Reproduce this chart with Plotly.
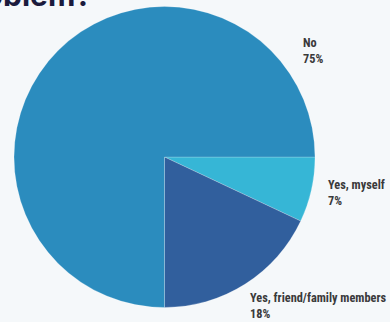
import plotly.graph_objects as go

labels = ["Yes, myself", "Yes, friend/family members", "No"]
values = [7, 18, 75]
colors = ["#36b6d6", "#315f9d", "#2b8cbe"]
title_text = "a gambling problem?"

W, H = 390, 322
cx, cy, r = 164.5, 157, 150.5

fig = go.Figure(go.Pie(
    labels=labels, values=values, sort=False, direction="clockwise", rotation=90,
    marker=dict(colors=colors, line=dict(color="rgba(255,255,255,0.35)", width=0.6)),
    textinfo="none", hoverinfo="label+percent", showlegend=False,
    domain=dict(x=[(cx - r) / W, (cx + r) / W], y=[(H - cy - r) / H, (H - cy + r) / H]),
))

# label positions (px, left/top)
label_pos = {"No": (301, 34), "Yes, myself": (326, 176), "Yes, friend/family members": (248, 289)}
total = sum(values)
for lab, val in zip(labels, values):
    px, py = label_pos[lab]
    fig.add_annotation(
        x=px / W, y=1 - py / H, xref="paper", yref="paper", xanchor="left", yanchor="top",
        text=f"<b>{lab}</b><br><b>{round(val / total * 100)}%</b>", showarrow=False, align="left",
        font=dict(family="Liberation Sans Narrow, Roboto Condensed, Roboto, sans-serif", size=12.3, color="#3a3a3a"),
    )

fig.add_annotation(
    x=94 / W, y=1 - 15 / H, xref="paper", yref="paper", xanchor="right", yanchor="bottom",
    text="<b>" + title_text + "</b>", showarrow=False,
    font=dict(family="Inter, Lato, sans-serif", size=30, color="#1b1b3d"),
)

fig.update_layout(
    width=W, height=H, margin=dict(l=0, r=0, t=0, b=0),
    paper_bgcolor="#f5f8fa", plot_bgcolor="#f5f8fa",
)
fig.write_html("out.html")
